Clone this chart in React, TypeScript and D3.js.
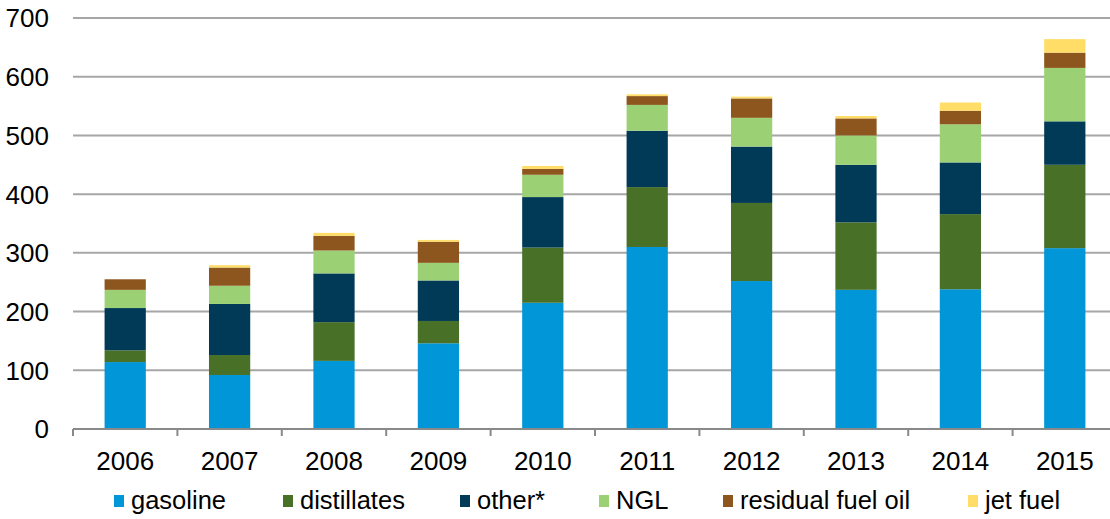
import React from "react";
import * as d3 from "d3";

const years = ["2006","2007","2008","2009","2010","2011","2012","2013","2014","2015"];
const gasoline = [114, 92, 116, 146, 215, 310, 252, 237, 238, 308];
const distillates = [20, 34, 66, 38, 94, 102, 133, 115, 128, 142];
const other = [72, 87, 83, 69, 86, 96, 96, 98, 88, 74];
const ngl = [31, 31, 39, 30, 38, 44, 49, 50, 65, 91];
const residual = [18, 31, 25, 36, 10, 15, 33, 29, 23, 26];
const jet = [0, 4, 5, 3, 5, 3, 3, 4, 14, 23];
const seriesNames = ["gasoline", "distillates", "other*", "NGL", "residual fuel oil", "jet fuel"];
const seriesColors = ["#0096D8", "#487027", "#003A56", "#9BD174", "#8C561E", "#FFDD66"];
const yTicks = [0, 100, 200, 300, 400, 500, 600, 700];

const W = 1110, H = 519;
const FONT = "'Liberation Sans', Arial, sans-serif";

export default function App() {
  const keys = ["gasoline", "distillates", "other", "ngl", "residual", "jet"];
  const cols = [gasoline, distillates, other, ngl, residual, jet];
  const table = years.map((y, i) => {
    const row: any = { year: y };
    keys.forEach((k, j) => (row[k] = cols[j][i]));
    return row;
  });
  const stacked = d3.stack().keys(keys)(table as any);
  const x = d3.scaleBand().domain(years).range([73, 1117]).paddingInner(0).paddingOuter(0);
  const y = d3.scaleLinear().domain([0, 700]).range([429, 18]);
  const barW = x.bandwidth() * 0.395;

  const legendX = [114, 283, 460, 599, 723, 968];

  return (
    <svg width={W} height={H} style={{ position: "absolute", left: 0, top: 0, background: "#fff" }} fontFamily={FONT}>
      <rect x={0} y={0} width={W} height={H} fill="#fff" />
      {yTicks.filter(t => t > 0).map(t => (
        <line key={t} x1={73} x2={W} y1={y(t)} y2={y(t)} stroke="#A6A6A6" strokeWidth={2} />
      ))}
      {yTicks.map(t => (
        <text key={"l" + t} x={49} y={y(t)} dy="0.36em" textAnchor="end" fontSize={26} fill="#000">{t}</text>
      ))}
      {stacked.map((s, si) => (
        <g key={si} fill={seriesColors[si]}>
          {s.map((d, i) => (
            <rect key={i} x={(x(years[i]) as number) + (x.bandwidth() - barW) / 2} width={barW}
              y={y(d[1])} height={Math.max(0, y(d[0]) - y(d[1]))} />
          ))}
        </g>
      ))}
      <line x1={73} x2={W} y1={y(0)} y2={y(0)} stroke="#898989" strokeWidth={2} />
      {years.map((yr, i) => (
        <line key={"t" + yr} x1={(x(yr) as number)} x2={(x(yr) as number)} y1={y(0)} y2={y(0) + 7} stroke="#898989" strokeWidth={2} />
      ))}
      {years.map(yr => (
        <text key={"x" + yr} x={(x(yr) as number) + x.bandwidth() / 2} y={469.5} textAnchor="middle" fontSize={26} fill="#000">{yr}</text>
      ))}
      {seriesNames.map((n, i) => (
        <g key={n}>
          <rect x={legendX[i]} y={495} width={10} height={12} fill={seriesColors[i]} />
          <text x={legendX[i] + 17} y={509} fontSize={25.5} fill="#000">{n}</text>
        </g>
      ))}
    </svg>
  );
}
